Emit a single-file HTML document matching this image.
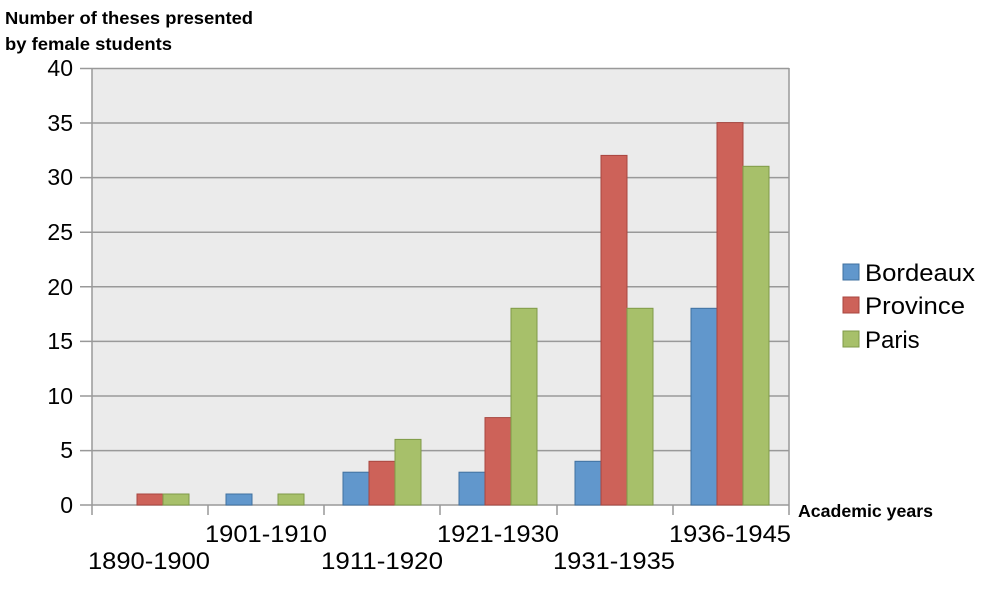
<!DOCTYPE html>
<html><head><style>body{margin:0;background:#fff}</style></head><body>
<svg width="1003" height="603" xmlns="http://www.w3.org/2000/svg" font-family="Liberation Sans, sans-serif">
<rect x="92" y="68" width="697" height="437" fill="#ebebeb"/>
<g stroke="#999" stroke-width="1.5">
<line x1="80" y1="68.5" x2="789" y2="68.5"/>
<line x1="80" y1="123" x2="789" y2="123"/>
<line x1="80" y1="177.6" x2="789" y2="177.6"/>
<line x1="80" y1="232.2" x2="789" y2="232.2"/>
<line x1="80" y1="286.8" x2="789" y2="286.8"/>
<line x1="80" y1="341.4" x2="789" y2="341.4"/>
<line x1="80" y1="396" x2="789" y2="396"/>
<line x1="80" y1="450.6" x2="789" y2="450.6"/>
<line x1="80" y1="505" x2="789" y2="505"/>
<line x1="92" y1="68" x2="92" y2="515"/>
<line x1="789" y1="68" x2="789" y2="505"/>
<line x1="208" y1="505" x2="208" y2="515"/>
<line x1="324" y1="505" x2="324" y2="515"/>
<line x1="440" y1="505" x2="440" y2="515"/>
<line x1="557" y1="505" x2="557" y2="515"/>
<line x1="673" y1="505" x2="673" y2="515"/>
<line x1="789" y1="505" x2="789" y2="515"/>
</g>
<g stroke-width="1">
<rect x="137" y="494" width="26" height="11" fill="#cd6259" stroke="#a8463f"/>
<rect x="163" y="494" width="26" height="11" fill="#a7c06a" stroke="#7f9a48"/>
<rect x="226" y="494" width="26" height="11" fill="#6197cc" stroke="#40709f"/>
<rect x="278" y="494" width="26" height="11" fill="#a7c06a" stroke="#7f9a48"/>
<rect x="343" y="472.2" width="26" height="32.8" fill="#6197cc" stroke="#40709f"/>
<rect x="369" y="461.3" width="26" height="43.7" fill="#cd6259" stroke="#a8463f"/>
<rect x="395" y="439.4" width="26" height="65.6" fill="#a7c06a" stroke="#7f9a48"/>
<rect x="459" y="472.2" width="26" height="32.8" fill="#6197cc" stroke="#40709f"/>
<rect x="485" y="417.6" width="26" height="87.4" fill="#cd6259" stroke="#a8463f"/>
<rect x="511" y="308.3" width="26" height="196.7" fill="#a7c06a" stroke="#7f9a48"/>
<rect x="575" y="461.3" width="26" height="43.7" fill="#6197cc" stroke="#40709f"/>
<rect x="601" y="155.4" width="26" height="349.6" fill="#cd6259" stroke="#a8463f"/>
<rect x="627" y="308.3" width="26" height="196.7" fill="#a7c06a" stroke="#7f9a48"/>
<rect x="691" y="308.3" width="26" height="196.7" fill="#6197cc" stroke="#40709f"/>
<rect x="717" y="122.6" width="26" height="382.4" fill="#cd6259" stroke="#a8463f"/>
<rect x="743" y="166.3" width="26" height="338.7" fill="#a7c06a" stroke="#7f9a48"/>
</g>
<g font-size="23" text-anchor="end" fill="#000">
<text x="73" y="76">40</text><text x="73" y="131">35</text><text x="73" y="185">30</text>
<text x="73" y="240">25</text><text x="73" y="295">20</text><text x="73" y="349">15</text>
<text x="73" y="404">10</text><text x="73" y="458">5</text><text x="73" y="513">0</text>
</g>
<g font-size="24" lengthAdjust="spacingAndGlyphs">
<text x="88" y="569" textLength="122" lengthAdjust="spacingAndGlyphs">1890-1900</text>
<text x="205" y="542" textLength="122" lengthAdjust="spacingAndGlyphs">1901-1910</text>
<text x="321" y="569" textLength="122" lengthAdjust="spacingAndGlyphs">1911-1920</text>
<text x="437" y="542" textLength="122" lengthAdjust="spacingAndGlyphs">1921-1930</text>
<text x="553" y="569" textLength="122" lengthAdjust="spacingAndGlyphs">1931-1935</text>
<text x="669" y="542" textLength="122" lengthAdjust="spacingAndGlyphs">1936-1945</text>
</g>
<g font-size="17.5" font-weight="bold">
<text x="5" y="24" textLength="248" lengthAdjust="spacingAndGlyphs">Number of theses presented</text>
<text x="5" y="50" textLength="167" lengthAdjust="spacingAndGlyphs">by female students</text>
<text x="798" y="517" textLength="135" lengthAdjust="spacingAndGlyphs">Academic years</text>
</g>
<rect x="843" y="264" width="16" height="16" fill="#6197cc" stroke="#40709f"/>
<rect x="843" y="297" width="16" height="16" fill="#cd6259" stroke="#a8463f"/>
<rect x="843" y="331" width="16" height="16" fill="#a7c06a" stroke="#7f9a48"/>
<g font-size="24"><text x="865" y="281" textLength="110" lengthAdjust="spacingAndGlyphs">Bordeaux</text><text x="865" y="314" textLength="100" lengthAdjust="spacingAndGlyphs">Province</text><text x="865" y="348">Paris</text></g>
</svg>
</body></html>
